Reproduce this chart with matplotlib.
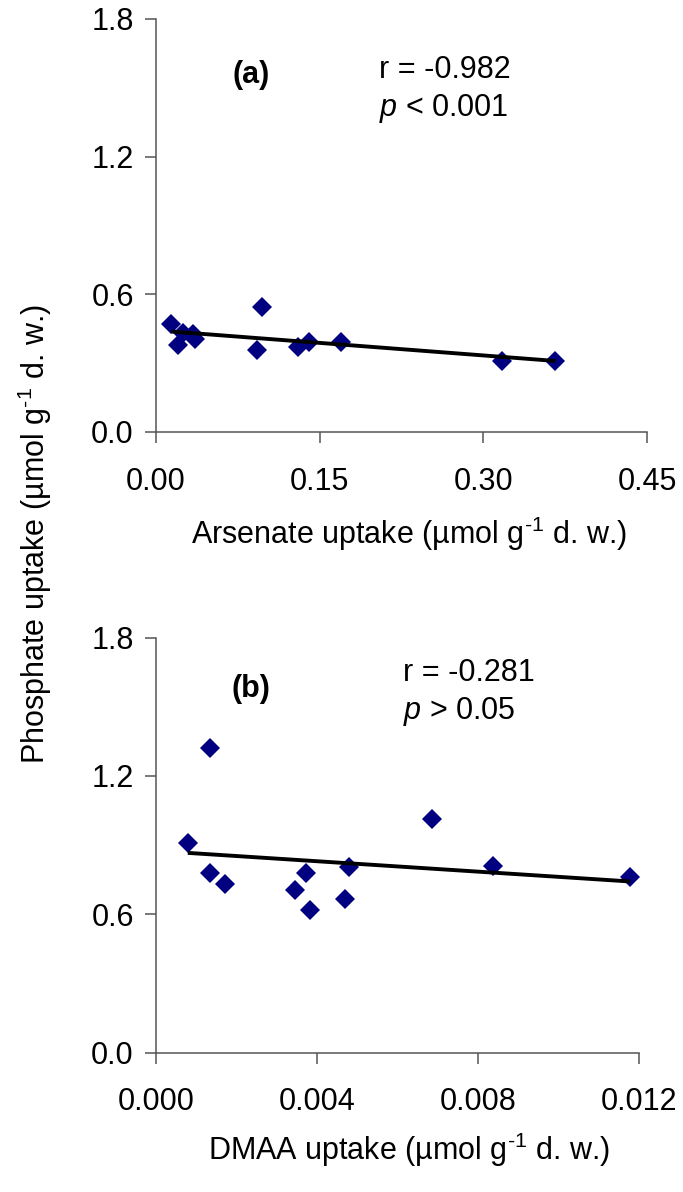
import matplotlib
matplotlib.use('Agg')
import matplotlib.pyplot as plt
import numpy as np
from matplotlib.ticker import FormatStrFormatter

plt.rcParams['font.family'] = ['Liberation Sans', 'DejaVu Sans']
plt.rcParams['mathtext.fontset'] = 'custom'
plt.rcParams['mathtext.rm'] = 'Liberation Sans'
plt.rcParams['mathtext.it'] = 'Liberation Sans:italic'

# panel (a): arsenate vs phosphate uptake
arsenate_x = [0.014, 0.020, 0.025, 0.034, 0.036, 0.097, 0.093, 0.130, 0.140, 0.170, 0.317, 0.366]
phosphate_a = [0.470, 0.380, 0.430, 0.425, 0.405, 0.545, 0.358, 0.372, 0.393, 0.394, 0.309, 0.309]

# panel (b): DMAA vs phosphate uptake
dmaa_x = [0.00079, 0.00133, 0.00133, 0.00172, 0.00346, 0.00374, 0.00384, 0.00471, 0.00480,
          0.00687, 0.00837, 0.01179]
phosphate_b = [0.911, 1.323, 0.781, 0.730, 0.706, 0.781, 0.619, 0.667, 0.807, 1.013, 0.810, 0.760]

y_ticks = [0.0, 0.6, 1.2, 1.8]
xa_ticks = [0.00, 0.15, 0.30, 0.45]
xb_ticks = [0.000, 0.004, 0.008, 0.012]

fs = 22
navy = '#000080'
spine_col = '#555555'
unit = r' (µmol g$^{\text{-1}}$ d. w.)'

fig = plt.figure(figsize=(6.83, 11.92), dpi=100)
ax1 = fig.add_axes([0.2284, 0.6376, 0.7189, 0.3465])
ax2 = fig.add_axes([0.2284, 0.1170, 0.7068, 0.3480])


def style(ax, xticks, fmt):
    ax.set_ylim(0, 1.8)
    ax.set_yticks(y_ticks)
    ax.set_xlim(xticks[0], xticks[-1])
    ax.set_xticks(xticks)
    ax.xaxis.set_major_formatter(FormatStrFormatter(fmt))
    ax.yaxis.set_major_formatter(FormatStrFormatter('%.1f'))
    for s in ['top', 'right']:
        ax.spines[s].set_visible(False)
    for s in ['left', 'bottom']:
        ax.spines[s].set_color(spine_col)
        ax.spines[s].set_linewidth(1.1)
    ax.tick_params(axis='both', direction='out', length=8, width=1.1, color=spine_col, labelsize=fs)
    ax.tick_params(axis='x', pad=17)
    ax.tick_params(axis='y', pad=8)


def scatter_fit(ax, x, y):
    x = np.array(x)
    y = np.array(y)
    ax.plot(x, y, 'D', color=navy, markersize=10, markeredgewidth=0, zorder=2, clip_on=False)
    k, b = np.polyfit(x, y, 1)
    xx = np.array([x.min(), x.max()])
    ax.plot(xx, k * xx + b, color='black', lw=2.8, zorder=3, solid_capstyle='butt')


scatter_fit(ax1, arsenate_x, phosphate_a)
style(ax1, xa_ticks, '%.2f')
scatter_fit(ax2, dmaa_x, phosphate_b)
style(ax2, xb_ticks, '%.3f')

ax1.text(0.193, 0.864, '(a)', transform=ax1.transAxes, fontsize=fs, fontweight='bold',
         ha='center', va='center')
ax1.text(0.454, 0.877, 'r = -0.982', transform=ax1.transAxes, fontsize=fs, ha='left', va='center')
ax1.text(0.454, 0.783, r'$\it{p}$ < 0.001', transform=ax1.transAxes, fontsize=fs, ha='left', va='center')

ax2.text(0.197, 0.877, '(b)', transform=ax2.transAxes, fontsize=fs, fontweight='bold',
         ha='center', va='center')
ax2.text(0.512, 0.915, 'r = -0.281', transform=ax2.transAxes, fontsize=fs, ha='left', va='center')
ax2.text(0.512, 0.821, r'$\it{p}$ > 0.05', transform=ax2.transAxes, fontsize=fs, ha='left', va='center')

fig.text(409 / 683, 1 - 534 / 1192, 'Arsenate uptake' + unit, fontsize=fs, ha='center', va='center')
fig.text(409 / 683, 1 - 1150 / 1192, 'DMAA uptake' + unit, fontsize=fs, ha='center', va='center')
fig.text(35 / 683, 1 - 534 / 1192, 'Phosphate uptake' + unit, fontsize=fs,
         rotation=90, ha='center', va='center')

fig.savefig('out.png', dpi=100)
